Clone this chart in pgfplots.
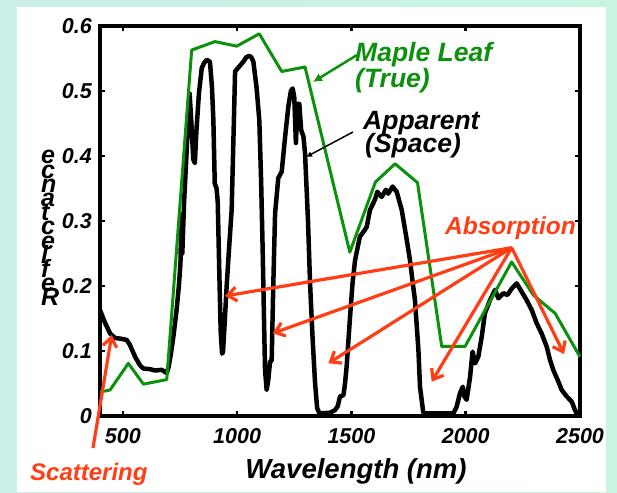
\documentclass[border=0pt]{standalone}
\usepackage{fontspec}
\setmainfont{Liberation Sans}
\usepackage{pgfplots}
\pgfplotsset{compat=1.18}
\usetikzlibrary{arrows.meta}

\definecolor{leafgreen}{RGB}{12,145,12}
\definecolor{arrowred}{RGB}{255,62,22}
\definecolor{mintL}{RGB}{204,238,233}
\definecolor{mintR}{RGB}{200,245,226}

\begin{document}
\begin{tikzpicture}[x=1pt,y=1pt]
% slide background
\shade[left color=mintL, right color=mintR] (0,0) rectangle (617,492);
\fill[white] (17,0) rectangle (606,485);

\begin{axis}[
  at={(100pt,76pt)}, anchor=south west,
  scale only axis, width=480pt, height=390pt,
  xmin=400, xmax=2500, ymin=0, ymax=0.6,
  clip=false,
  axis line style={line width=3.5pt},
  xtick={500,1000,1500,2000,2500},
  xticklabels={500,1000,1500,2000,2500},
  ytick={0,0.1,0.2,0.3,0.4,0.5,0.6},
  yticklabels={0,0.1,0.2,0.3,0.4,0.5,0.6},
  tick align=inside,
  major tick length=5pt,
  tick style={line width=2.5pt, black},
  ticklabel style={font=\fontsize{21.5}{21.5}\selectfont\bfseries\itshape},
  xticklabel style={anchor=base, yshift=-27pt},
  yticklabel style={anchor=east, inner sep=0pt, xshift=-8pt},
]
% apparent reflectance (seen from space)
\addplot[black, line width=4.5pt, line join=round] table {
400 0.163
420 0.145
444 0.127
466 0.120
490 0.119
517 0.117
530 0.110
555 0.090
575 0.078
590 0.073
620 0.072
640 0.070
670 0.071
692 0.066
700 0.075
712 0.100
721 0.122
735 0.163
745 0.200
752 0.235
756 0.310
760 0.250
768 0.330
778 0.400
786 0.460
792 0.496
800 0.450
808 0.395
815 0.389
822 0.440
833 0.497
845 0.535
855 0.543
867 0.548
881 0.545
890 0.505
896 0.455
902 0.358
910 0.350
915 0.330
922 0.220
928 0.130
934 0.096
938 0.098
945 0.140
954 0.199
965 0.260
976 0.317
984 0.430
991 0.530
1010 0.538
1027 0.545
1040 0.552
1053 0.554
1062 0.552
1071 0.545
1085 0.505
1097 0.455
1105 0.360
1112 0.250
1118 0.140
1122 0.071
1129 0.040
1136 0.055
1144 0.084
1151 0.085
1158 0.200
1166 0.312
1180 0.366
1195 0.376
1210 0.430
1224 0.476
1235 0.500
1243 0.504
1250 0.490
1257 0.420
1264 0.480
1272 0.480
1280 0.440
1290 0.430
1297 0.404
1310 0.300
1319 0.204
1330 0.120
1341 0.050
1350 0.012
1360 0.004
1406 0.005
1428 0.009
1440 0.015
1450 0.030
1465 0.032
1472 0.050
1479 0.076
1494 0.153
1505 0.205
1516 0.240
1537 0.276
1556 0.285
1567 0.291
1581 0.317
1595 0.327
1605 0.335
1613 0.345
1632 0.337
1651 0.348
1661 0.342
1680 0.353
1698 0.345
1720 0.317
1742 0.271
1756 0.240
1770 0.200
1778 0.178
1793 0.102
1800 0.045
1814 0.006
1820 0.004
1946 0.004
1960 0.014
1975 0.035
1987 0.045
1994 0.030
2004 0.025
2019 0.060
2030 0.099
2041 0.081
2055 0.091
2070 0.122
2084 0.158
2106 0.178
2128 0.194
2143 0.181
2165 0.189
2182 0.186
2201 0.196
2223 0.204
2245 0.191
2267 0.178
2289 0.163
2310 0.143
2332 0.127
2354 0.107
2369 0.086
2383 0.071
2405 0.053
2420 0.040
2442 0.030
2464 0.022
2478 0.009
2493 0.000
};
% true leaf reflectance
\addplot[leafgreen, line width=3pt, line join=round] table {
400 0.037
444 0.040
524 0.081
590 0.049
692 0.056
801 0.563
903 0.576
998 0.569
1097 0.588
1195 0.530
1297 0.537
1493 0.252
1605 0.360
1691 0.388
1789 0.359
1895 0.107
1997 0.107
2201 0.237
2296 0.186
2391 0.158
2500 0.091
};
\end{axis}

% annotations (picture coordinates)
\node[anchor=base west, text=leafgreen, font=\fontsize{26.5}{26.5}\selectfont\bfseries\itshape, inner sep=0pt] at (355,430) {Maple Leaf};
\node[anchor=base west, text=leafgreen, font=\fontsize{26.5}{26.5}\selectfont\bfseries\itshape, inner sep=0pt] at (355,404) {(True)};
\node[anchor=base west, font=\fontsize{26.5}{26.5}\selectfont\bfseries\itshape, inner sep=0pt] at (363,362) {Apparent};
\node[anchor=base west, font=\fontsize{26.5}{26.5}\selectfont\bfseries\itshape, inner sep=0pt] at (365,339) {(Space)};
\node[anchor=base west, text=arrowred, font=\fontsize{24.5}{24.5}\selectfont\bfseries\itshape, inner sep=0pt] at (445,257) {Absorption};
\node[anchor=base west, text=arrowred, font=\fontsize{24}{24}\selectfont\bfseries\itshape, inner sep=0pt] at (30,12) {Scattering};
\node[anchor=base, font=\fontsize{27.5}{27.5}\selectfont\bfseries\itshape, inner sep=0pt] at (356,14) {Wavelength (nm)};
% y label as it appears in the source: letters stacked, last letter at the bottom
\foreach \c [count=\i] in {e,c,n,a,t,c,e,l,f,e,R}
  \node[anchor=base west, inner sep=0pt, font=\fontsize{25}{25}\selectfont\bfseries\itshape] at (41,{328-(\i-1)*14.2}) {\c};

\draw[leafgreen, line width=2.5pt, -{Latex[length=9pt,width=9pt]}] (357,437) -- (313,410);
\draw[black, line width=1.5pt, -{Latex[length=6pt,width=6pt]}] (353,360) -- (306,335);

\begin{scope}[arrowred, line width=3.2pt, -{Straight Barb[length=9pt,width=14pt]}]
\draw (511.7,244.3) -- (225,196);
\draw (511.7,244.3) -- (272.7,158.7);
\draw (511.7,244.3) -- (328.3,128.7);
\draw (511.7,244.3) -- (431.7,110.3);
\draw (511.7,244.3) -- (564,138);
\draw (93,44) -- (111.7,157);
\end{scope}
\end{tikzpicture}
\end{document}
